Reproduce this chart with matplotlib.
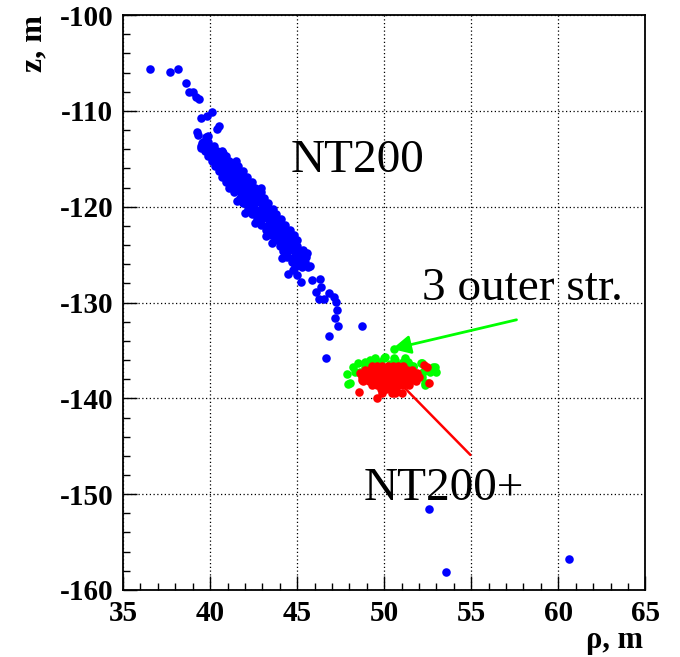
import matplotlib.pyplot as plt
from matplotlib.ticker import MultipleLocator

plt.rcParams['axes.unicode_minus'] = False

# dense NT200 band, row by row: z of the row and rho of the points in it
band_z = [-113.2, -113.7, -114.2, -114.7, -115.2, -115.8, -116.3, -116.9,
          -117.4, -118.0, -118.5, -119.1, -119.6, -120.2, -120.8, -121.3,
          -121.9, -122.4, -123.0, -123.5, -124.1, -124.6, -125.2, -125.8, -126.3]
band_rho = [
    [39.6, 39.9],
    [39.5, 39.8, 40.2],
    [39.7, 40.0, 40.4, 40.7],
    [39.9, 40.2, 40.5, 40.9],
    [40.1, 40.4, 40.8, 41.1, 41.5],
    [40.3, 40.6, 40.9, 41.3, 41.6],
    [40.5, 40.8, 41.1, 41.5, 41.9],
    [40.7, 41.0, 41.4, 41.7, 42.1],
    [40.9, 41.3, 41.6, 42.0, 42.4],
    [41.1, 41.5, 41.9, 42.2, 42.6, 42.9],
    [41.4, 41.8, 42.1, 42.5, 42.9],
    [41.7, 42.0, 42.4, 42.7, 43.1],
    [41.9, 42.3, 42.6, 43.0, 43.3],
    [42.2, 42.5, 42.9, 43.2, 43.6],
    [42.4, 42.8, 43.1, 43.5, 43.8],
    [42.7, 43.0, 43.4, 43.7, 44.1],
    [42.9, 43.3, 43.6, 44.0, 44.3],
    [43.2, 43.5, 43.9, 44.2, 44.6],
    [43.5, 43.8, 44.1, 44.5, 44.8],
    [43.7, 44.0, 44.4, 44.7, 45.0],
    [44.0, 44.3, 44.6, 45.0],
    [44.2, 44.5, 44.9, 45.2],
    [44.4, 44.8, 45.1, 45.5],
    [44.7, 45.0, 45.4],
    [44.9, 45.3, 45.6],
]

# scattered NT200 points outside the band
blue_rho = [36.55, 37.70, 38.16, 38.62, 38.79, 39.02, 39.20, 39.37, 40.11, 39.83,
            39.48, 40.52, 40.40, 39.25, 39.89, 39.77, 39.54, 39.48, 40.00, 39.31,
            40.75, 41.55, 42.87, 42.01, 42.59, 43.22, 43.56, 44.14, 45.57, 45.34,
            44.48, 44.77, 45.00, 45.23, 45.46, 45.75, 45.86, 46.32, 46.38, 46.09,
            46.26, 46.55, 46.84, 47.13, 47.24, 47.30, 47.18, 47.36, 48.74, 46.84,
            46.67, 52.60, 53.55, 60.60]
blue_z = [-105.63, -105.95, -105.63, -107.10, -108.04, -108.04, -108.56, -108.77, -110.12, -110.54,
          -110.75, -111.58, -111.90, -112.21, -112.63, -112.73, -113.36, -113.88, -114.09, -112.52,
          -114.40, -119.41, -118.16, -120.66, -121.70, -123.06, -123.79, -125.36, -124.84, -124.52,
          -127.03, -126.61, -127.13, -127.86, -125.77, -126.19, -127.65, -127.55, -128.38, -128.91,
          -129.64, -129.64, -129.01, -129.43, -129.95, -130.78, -131.62, -132.45, -132.45, -133.50,
          -135.79, -151.50, -158.10, -156.80]

# 3 outer strings
green_rho = [47.87, 48.05, 48.22, 48.51, 48.62, 49.31, 49.48, 50.06, 50.63, 51.09,
             51.49, 52.18, 52.93, 52.99, 51.78, 52.36, 50.34, 50.57, 51.21, 51.67,
             52.82, 52.24, 52.36, 48.91, 49.77, 50.34, 50.80, 49.20, 48.33, 48.90,
             47.93, 48.62, 48.91, 49.43, 50.00, 50.57, 51.38, 51.67, 52.13, 52.53,
             52.64, 52.18]
green_z = [-137.46, -138.40, -136.73, -136.31, -137.36, -136.84, -135.79, -135.69, -136.00, -136.21,
           -136.52, -136.31, -136.73, -137.25, -137.57, -138.40, -138.82, -134.85, -135.79, -136.63,
           -136.73, -137.25, -138.61, -136.21, -136.21, -136.42, -136.52, -136.00, -137.25, -137.00,
           -138.50, -137.30, -136.73, -136.42, -135.80, -135.80, -136.21, -136.73, -136.31, -138.40,
           -137.25, -137.80]

# NT200+ cluster, row by row
red_row_z = [-136.6, -137.0, -137.4, -137.8, -138.2, -138.6, -139.0, -139.4]
red_row_rho = [
    [49.3, 49.6, 49.9, 50.2, 50.5, 50.8, 51.1],
    [48.9, 49.2, 49.5, 49.8, 50.1, 50.4, 50.7, 51.0, 51.3, 51.6],
    [48.6, 48.9, 49.2, 49.5, 49.8, 50.1, 50.4, 50.7, 51.0, 51.3, 51.6, 51.9],
    [48.7, 49.0, 49.3, 49.6, 49.9, 50.2, 50.5, 50.8, 51.1, 51.4, 51.7, 52.0],
    [48.8, 49.1, 49.4, 49.7, 50.0, 50.3, 50.6, 50.9, 51.2, 51.5, 51.8],
    [49.3, 49.6, 49.9, 50.2, 50.5, 50.8, 51.1, 51.4],
    [49.8, 50.1, 50.4, 50.7],
    [49.9, 50.6],
]
red_rho = [52.47, 52.30, 52.59, 48.56, 49.60, 50.46, 51.03, 48.74]
red_z = [-136.73, -136.52, -138.40, -139.34, -139.97, -139.44, -139.44, -138.09]

for z, row in zip(band_z, band_rho):
    blue_rho += row
    blue_z += [z] * len(row)
for z, row in zip(red_row_z, red_row_rho):
    red_rho += row
    red_z += [z] * len(row)

serif = 'Liberation Serif'

fig = plt.figure(figsize=(6.8, 6.57), dpi=100)
ax = fig.add_axes([0.181, 0.102, 0.768, 0.875])

ms = 38
ax.scatter(blue_rho, blue_z, s=ms, color='#0000ff', linewidths=0, zorder=3)
ax.scatter(green_rho, green_z, s=ms, color='#00ff00', linewidths=0, zorder=4)
ax.scatter(red_rho, red_z, s=ms, color='#ff0000', linewidths=0, zorder=5)

ax.set_xlim(35, 65)
ax.set_ylim(-160, -100)
ax.xaxis.set_major_locator(MultipleLocator(5))
ax.xaxis.set_minor_locator(MultipleLocator(1))
ax.yaxis.set_major_locator(MultipleLocator(10))
ax.yaxis.set_minor_locator(MultipleLocator(2))
ax.tick_params(which='both', direction='in', top=False, right=False, width=1)
ax.tick_params(which='major', length=10, pad=7)
ax.tick_params(which='minor', length=5)
ax.grid(True, which='major', color='black', linestyle=(0, (1, 2)), linewidth=0.9)
for sp in ax.spines.values():
    sp.set_linewidth(1.3)

for lab in ax.get_xticklabels() + ax.get_yticklabels():
    lab.set_fontfamily(serif)
    lab.set_fontweight('bold')
    lab.set_fontsize(21)

fig.text(0.05, 0.977, 'z, m', rotation=90, ha='center', va='top',
         family=serif, weight='bold', fontsize=23)
fig.text(0.945, 0.003, 'ρ, m', ha='right', va='bottom',
         family=serif, weight='bold', fontsize=22)

ax.text(44.6, -116.4, 'NT200', family=serif, fontsize=34, zorder=6)
ax.text(52.2, -129.7, '3 outer str.', family=serif, fontsize=34, zorder=6)
ax.text(48.8, -150.6, 'NT200+', family=serif, fontsize=34, zorder=6)

ax.annotate('', xy=(50.45, -134.85), xytext=(57.6, -131.8),
            arrowprops=dict(arrowstyle='-|>', color='#00ff00', lw=2,
                            mutation_scale=28, shrinkA=0, shrinkB=0), zorder=6)
# red pointer starts inside the NT200+ cloud, so its head is hidden by the points
ax.annotate('', xy=(50.9, -138.4), xytext=(54.95, -145.9),
            arrowprops=dict(arrowstyle='-', color='#ff0000', lw=1.8,
                            shrinkA=0, shrinkB=0), zorder=4.5)

fig.savefig('out.png', dpi=100)
